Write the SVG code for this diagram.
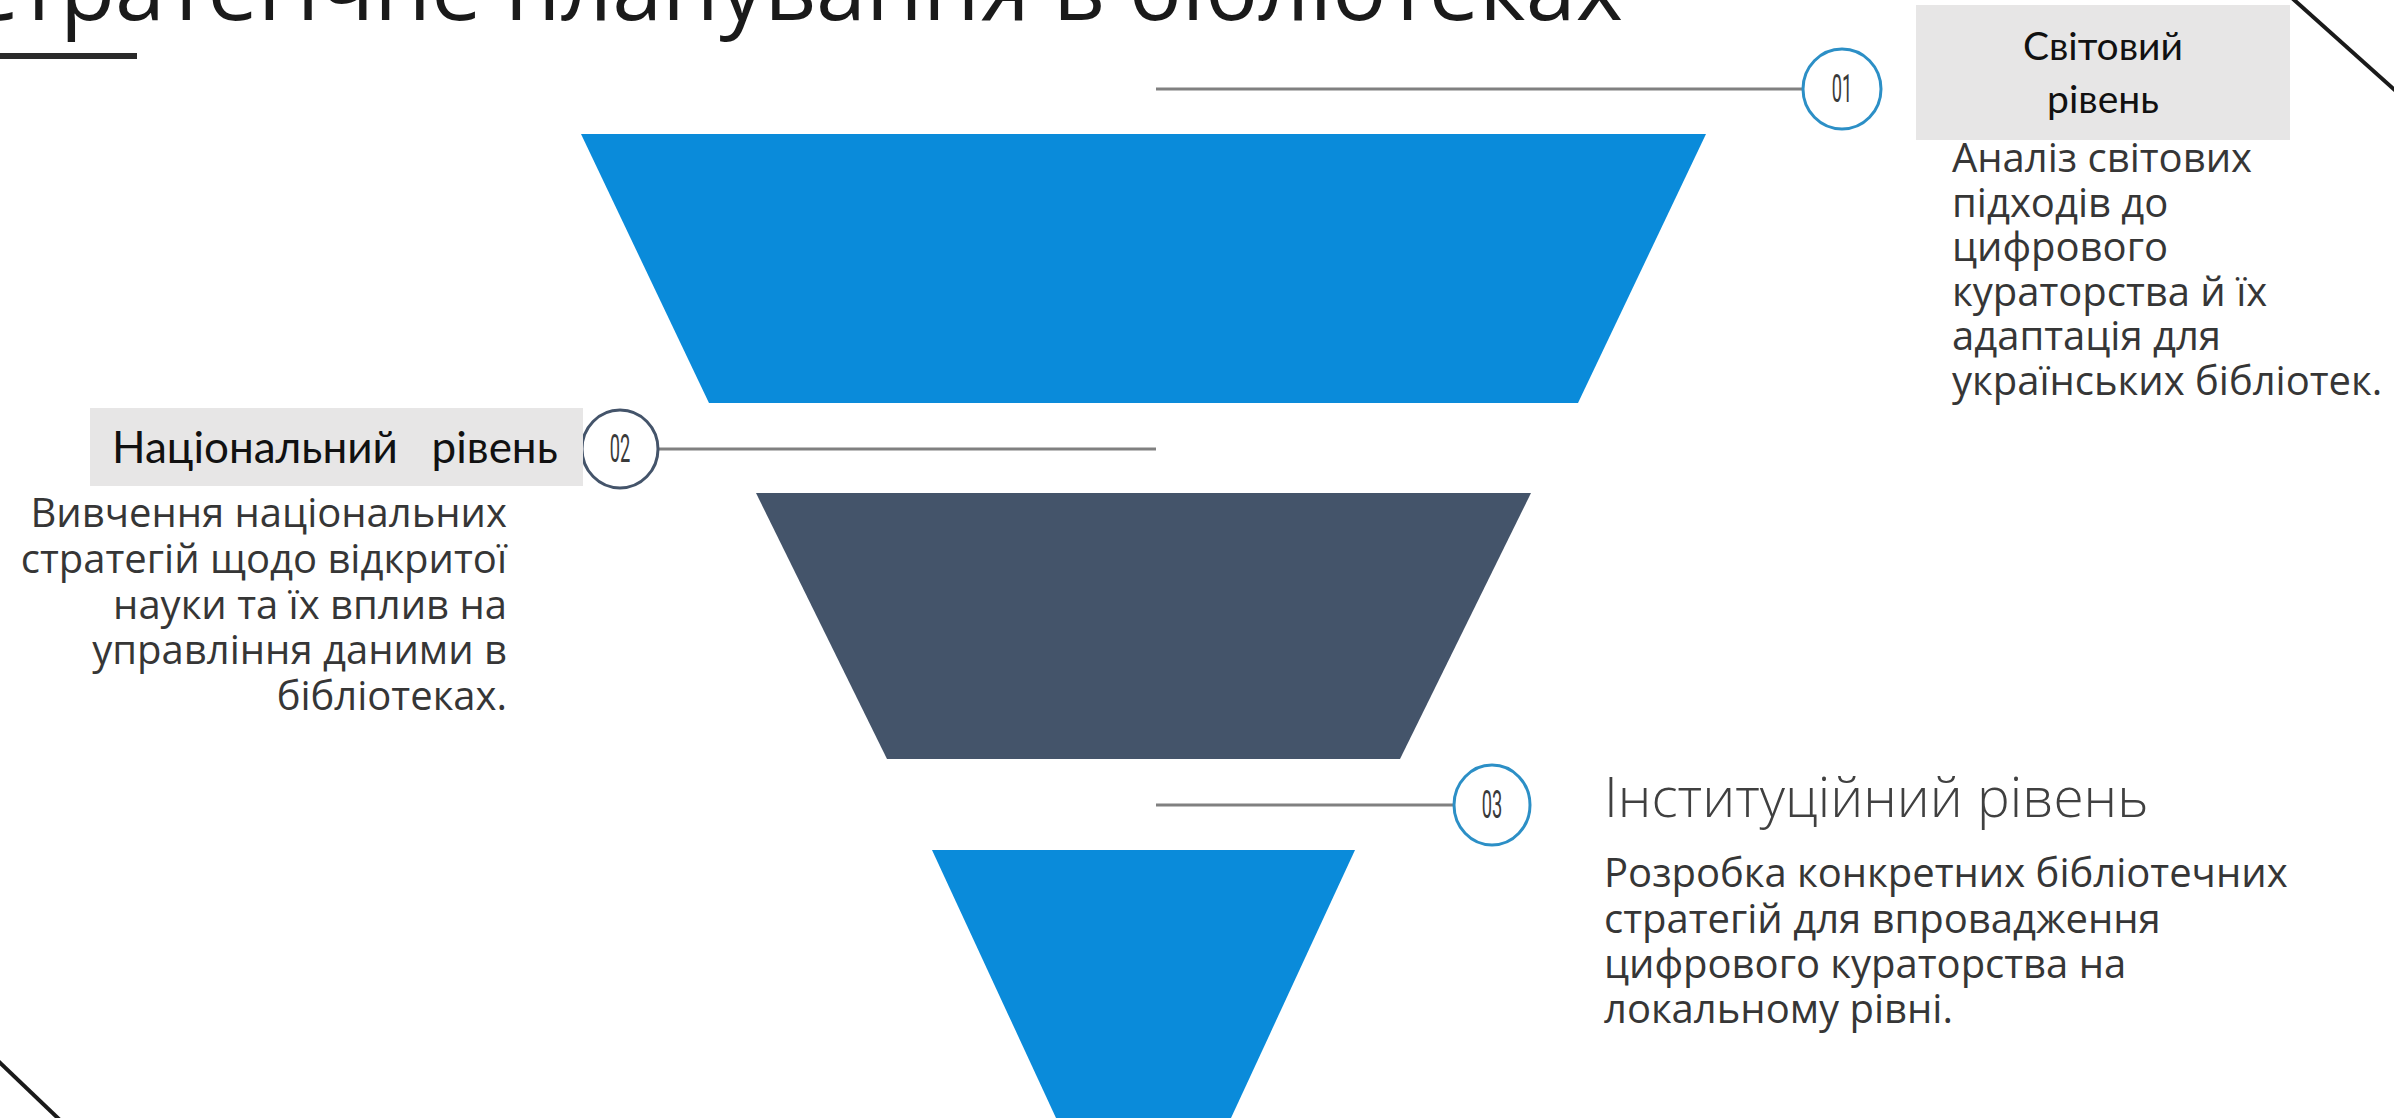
<svg xmlns="http://www.w3.org/2000/svg" width="2394" height="1118" viewBox="0 0 2394 1118">
<style>
.body{font-family:"Open Sans","Noto Sans",sans-serif;font-size:40px;fill:#363636}
.lbl{font-family:Lato,"Liberation Sans",sans-serif;fill:#111}
.num{font-family:Roboto,"Liberation Sans",sans-serif;font-size:38px;font-weight:400;fill:#3a3a3a;text-anchor:middle}
.conn{stroke:#808080;stroke-width:3;fill:none}
.ring-blue{fill:#fff;stroke:#2c8fc6;stroke-width:3}
.ring-dark{fill:#fff;stroke:#44546a;stroke-width:3}
.box{fill:#e7e6e6}
.deco{stroke:#1a1a1a;stroke-width:4;fill:none}
.blue{fill:#0a8bda}
.dark{fill:#44546a}
</style>
<rect width="2394" height="1118" fill="#fff"/>
<g id="title">
<text x="-39" y="20" font-family="'Open Sans','Noto Sans',sans-serif" font-size="90" fill="#1a1a1a">Стратегічне планування в бібліотеках</text>
<rect x="0" y="53" width="137" height="6" fill="#2a2a2a"/>
</g>
<g id="decor">
<line class="deco" x1="2292" y1="-2" x2="2398" y2="93"/>
<line class="deco" x1="-8" y1="1055" x2="62" y2="1122"/>
</g>
<g id="connectors">
<line class="conn" x1="1156" y1="89" x2="1803" y2="89"/>
<line class="conn" x1="658" y1="449" x2="1156" y2="449"/>
<line class="conn" x1="1156" y1="805" x2="1454" y2="805"/>
</g>
<g id="funnel-1"><polygon class="blue" points="581,134 1706,134 1578,403 709,403"/></g>
<g id="funnel-2"><polygon class="dark" points="756,493 1531,493 1400,759 887,759"/></g>
<g id="funnel-3"><polygon class="blue" points="932,850 1355,850 1231,1118 1056,1118"/></g>
<g id="marker-01">
<ellipse class="ring-blue" cx="1842" cy="89" rx="39" ry="40"/>
<text class="num" transform="translate(1842,102) scale(0.48,1)">01</text>
</g>
<g id="marker-02">
<ellipse class="ring-dark" cx="620" cy="449" rx="38" ry="39"/>
<text class="num" transform="translate(620,462) scale(0.48,1)">02</text>
</g>
<g id="marker-03">
<ellipse class="ring-blue" cx="1492" cy="805" rx="38" ry="40"/>
<text class="num" transform="translate(1492,818) scale(0.48,1)">03</text>
</g>
<g id="level-world">
<rect class="box" x="1916" y="5" width="374" height="135"/>
<text class="lbl" font-size="39" text-anchor="middle" x="2103" y="60">Світовий</text>
<text class="lbl" font-size="39" text-anchor="middle" x="2103" y="113">рівень</text>
<text class="body"><tspan x="1952" y="172">Аналіз світових</tspan><tspan x="1952" y="216.6">підходів до</tspan><tspan x="1952" y="261">цифрового</tspan><tspan x="1952" y="306">кураторства й їх</tspan><tspan x="1952" y="350">адаптація для</tspan><tspan x="1952" y="395">українських бібліотек.</tspan></text>
</g>
<g id="level-national">
<rect class="box" x="90" y="408" width="493" height="78"/>
<text class="lbl" font-size="44" x="112" y="463" xml:space="preserve">Національний   рівень</text>
<text class="body" text-anchor="end"><tspan x="507" y="527">Вивчення національних</tspan><tspan x="507" y="573">стратегій щодо відкритої</tspan><tspan x="507" y="619">науки та їх вплив на</tspan><tspan x="507" y="664">управління даними в</tspan><tspan x="507" y="710">бібліотеках.</tspan></text>
</g>
<g id="level-institutional">
<text x="1604" y="817" font-family="'Open Sans','Noto Sans',sans-serif" font-size="55" font-weight="300" fill="#404040">Інституційний рівень</text>
<text class="body"><tspan x="1604" y="887">Розробка конкретних бібліотечних</tspan><tspan x="1604" y="933">стратегій для впровадження</tspan><tspan x="1604" y="978">цифрового кураторства на</tspan><tspan x="1604" y="1023">локальному рівні.</tspan></text>
</g>
</svg>
